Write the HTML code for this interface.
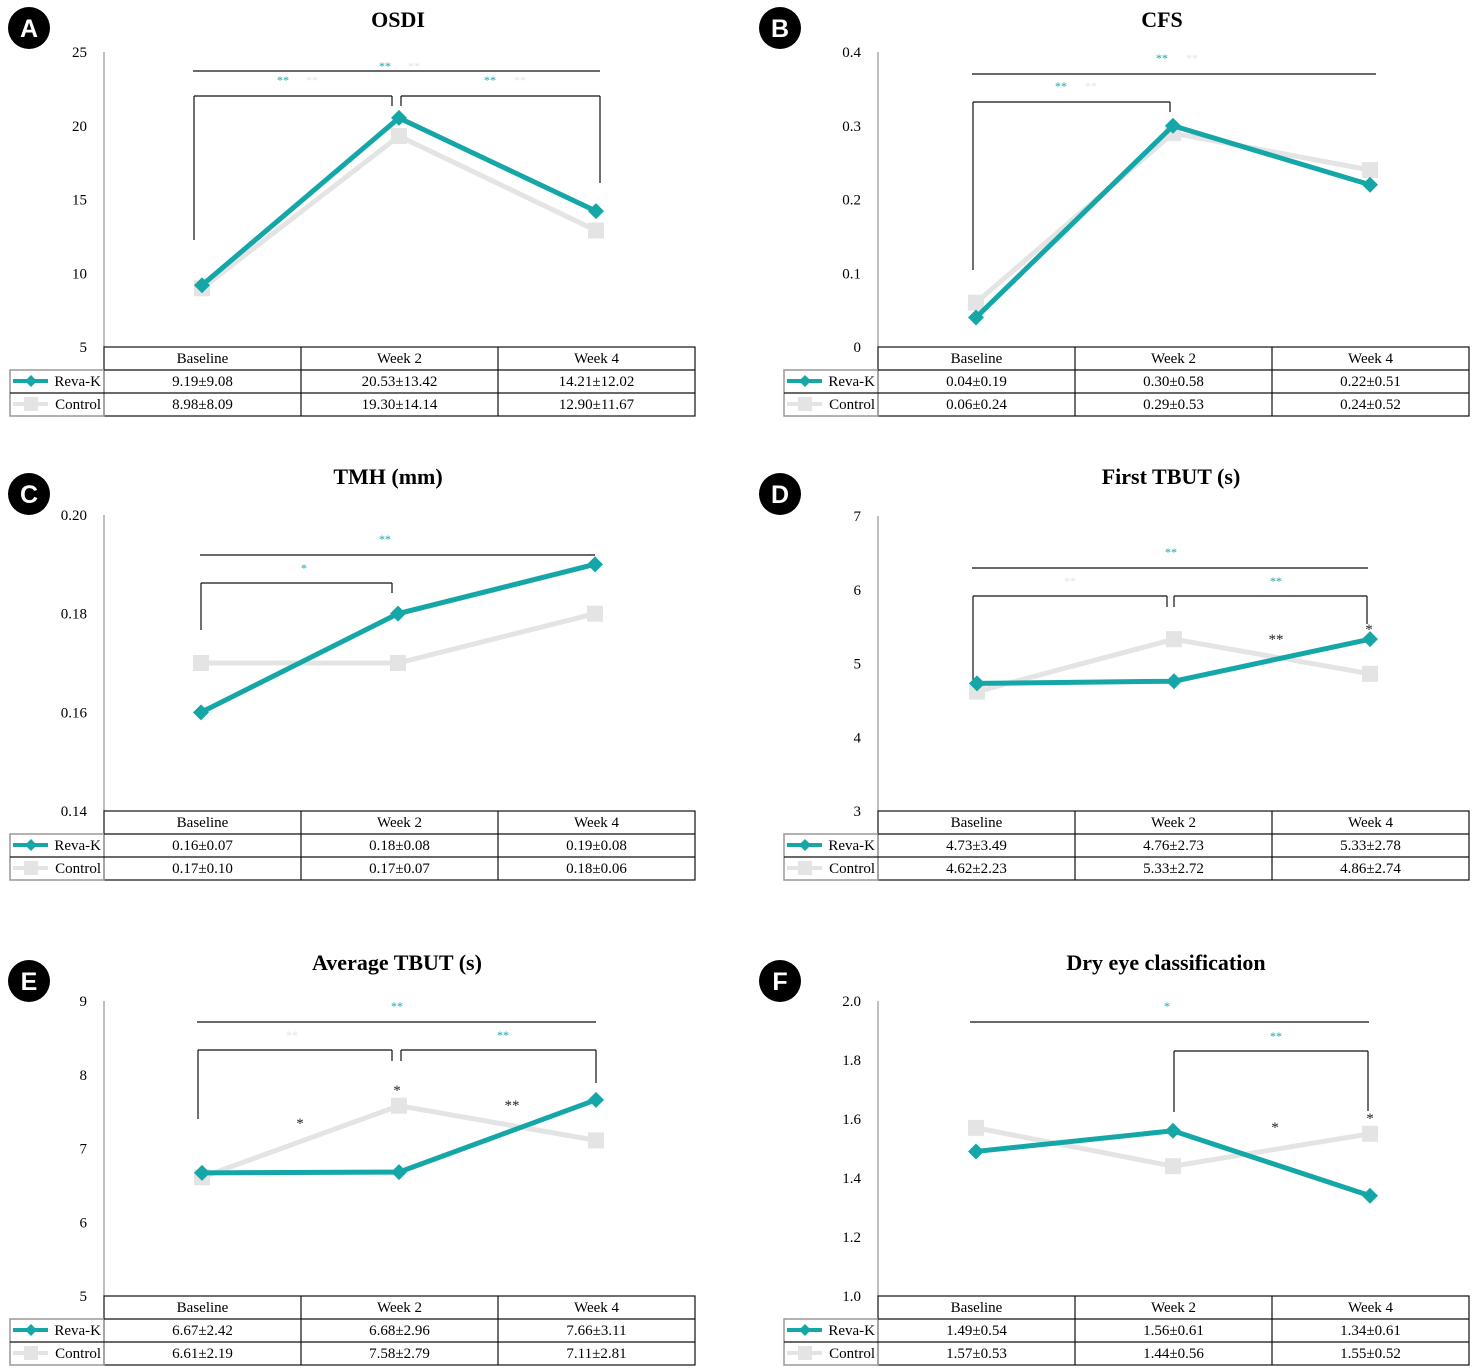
<!DOCTYPE html><html><head><meta charset="utf-8"><style>body{margin:0;background:#fff}svg{display:block}</style></head><body>
<svg id="s" width="1477" height="1372" xmlns="http://www.w3.org/2000/svg" font-family="Liberation Serif, serif"></svg>
<script>
const T='#15a6a8',G='#e4e4e4';
const P=[
{ax:104,top:52,bot:347,cx:[202,399,596],cols:[104,301,498,695],lo:5,hi:25,ticks:['25','20','15','10','5'],t:'OSDI',tx:398,ty:27,b:[29,28],
 r:[9.19,20.53,14.21],g:[8.98,19.30,12.90],rv:['9.19±9.08','20.53±13.42','14.21±12.02'],gv:['8.98±8.09','19.30±14.14','12.90±11.67'],
 ln:[[193,71,600,71],[194,96,392,96],[194,96,194,240],[392,96,392,106],[401,96,600,96],[401,96,401,106],[600,96,600,183]],
 st:[[385,70,T,'**'],[414,70,G,'**'],[283,84,T,'**'],[312,84,G,'**'],[490,84,T,'**'],[520,84,G,'**']]},
{ax:878,top:52,bot:347,cx:[976,1173,1370],cols:[878,1075,1272,1469],lo:0,hi:0.4,ticks:['0.4','0.3','0.2','0.1','0'],t:'CFS',tx:1162,ty:27,b:[780,28],
 r:[.04,.30,.22],g:[.06,.29,.24],rv:['0.04±0.19','0.30±0.58','0.22±0.51'],gv:['0.06±0.24','0.29±0.53','0.24±0.52'],
 ln:[[972,74,1376,74],[973,102,1170,102],[973,102,973,270],[1170,102,1170,112]],
 st:[[1162,62,T,'**'],[1192,62,G,'**'],[1061,90,T,'**'],[1091,90,G,'**']]},
{ax:104,top:515,bot:811,cx:[201,398,595],cols:[104,301,498,695],lo:.14,hi:.20,ticks:['0.20','0.18','0.16','0.14'],t:'TMH (mm)',tx:388,ty:484,b:[29,494],
 r:[.16,.18,.19],g:[.17,.17,.18],rv:['0.16±0.07','0.18±0.08','0.19±0.08'],gv:['0.17±0.10','0.17±0.07','0.18±0.06'],
 ln:[[200,555,595,555],[201,583,392,583],[201,583,201,630],[392,583,392,593]],
 st:[[385,543,T,'**'],[304,572,T,'*']]},
{ax:878,top:516,bot:811,cx:[977,1174,1370],cols:[878,1075,1272,1469],lo:3,hi:7,ticks:['7','6','5','4','3'],t:'First TBUT (s)',tx:1171,ty:484,b:[780,494],
 r:[4.73,4.76,5.33],g:[4.62,5.33,4.86],rv:['4.73±3.49','4.76±2.73','5.33±2.78'],gv:['4.62±2.23','5.33±2.72','4.86±2.74'],
 ln:[[972,568,1368,568],[973,596,1167,596],[973,596,973,686],[1167,596,1167,607],[1174,596,1367,596],[1174,596,1174,607],[1367,596,1367,624]],
 st:[[1171,556,T,'**'],[1070,585,G,'**'],[1276,585,T,'**'],[1276,644,'#222','**'],[1369,634,'#222','*']]},
{ax:104,top:1001,bot:1296,cx:[202,399,596],cols:[104,301,498,695],lo:5,hi:9,ticks:['9','8','7','6','5'],t:'Average TBUT (s)',tx:397,ty:970,b:[29,981],
 r:[6.67,6.68,7.66],g:[6.61,7.58,7.11],rv:['6.67±2.42','6.68±2.96','7.66±3.11'],gv:['6.61±2.19','7.58±2.79','7.11±2.81'],
 ln:[[197,1022,596,1022],[198,1050,392,1050],[198,1050,198,1119],[392,1050,392,1061],[401,1050,596,1050],[401,1050,401,1061],[596,1050,596,1083]],
 st:[[397,1010,T,'**'],[292,1039,G,'**'],[503,1039,T,'**'],[300,1128,'#222','*'],[397,1095,'#222','*'],[512,1110,'#222','**']]},
{ax:878,top:1001,bot:1296,cx:[976,1173,1370],cols:[878,1075,1272,1469],lo:1,hi:2,ticks:['2.0','1.8','1.6','1.4','1.2','1.0'],t:'Dry eye classification',tx:1166,ty:970,b:[780,981],
 r:[1.49,1.56,1.34],g:[1.57,1.44,1.55],rv:['1.49±0.54','1.56±0.61','1.34±0.61'],gv:['1.57±0.53','1.44±0.56','1.55±0.52'],
 ln:[[970,1022,1369,1022],[1174,1051,1368,1051],[1174,1051,1174,1112],[1368,1051,1368,1111]],
 st:[[1167,1010,T,'*'],[1276,1040,T,'**'],[1275,1132,'#222','*'],[1370,1123,'#222','*']]}];
let h='';
const L=(x1,y1,x2,y2,c,w)=>`<line x1="${x1}" y1="${y1}" x2="${x2}" y2="${y2}" stroke="${c}" stroke-width="${w}"/>`;
function tx(x,y,s,a,str,extra){return `<text x="${x}" y="${y}" font-size="${s}" text-anchor="${a}" ${extra||''}>${str}</text>`}
function dia(x,y,s){return `<polygon points="${x},${y-s} ${x+s},${y} ${x},${y+s} ${x-s},${y}" fill="${T}"/>`}
P.forEach(p=>{
 const Y=v=>p.bot-(v-p.lo)/(p.hi-p.lo)*(p.bot-p.top);
 h+=`<circle cx="${p.b[0]}" cy="${p.b[1]}" r="21" fill="#000"/>`;
 h+=tx(p.b[0],p.b[1]+9,25,'middle','ABCDEF'[P.indexOf(p)],'fill="#fff" font-family="Liberation Sans,sans-serif" font-weight="bold"');
 h+=tx(p.tx,p.ty,22,'middle',p.t,'font-weight="bold"');
 h+=L(p.ax,p.top,p.ax,p.bot,'#aaa',1.5);
 const n=p.ticks.length;
 p.ticks.forEach((t,i)=>{const y=p.top+(p.bot-p.top)*i/(n-1);h+=tx(p.ax-17,y+5,15,'end',t)});
 p.ln.forEach(l=>h+=L(l[0],l[1],l[2],l[3],'#111',1.2));
 p.st.forEach(s=>h+=tx(s[0],s[1],s[2]=='#222'?15:12,'middle',s[3],`fill="${s[2]}"`));
 const gp=p.cx.map((x,i)=>x+','+Y(p.g[i])).join(' '), rp=p.cx.map((x,i)=>x+','+Y(p.r[i])).join(' ');
 h+=`<polyline points="${gp}" fill="none" stroke="${G}" stroke-width="5"/>`;
 p.cx.forEach((x,i)=>h+=`<rect x="${x-8}" y="${Y(p.g[i])-8}" width="16" height="16" fill="${G}"/>`);
 h+=`<polyline points="${rp}" fill="none" stroke="${T}" stroke-width="5"/>`;
 p.cx.forEach((x,i)=>h+=dia(x,Y(p.r[i]),8));
 const c=p.cols,y0=p.bot,rh=23,lx=p.ax-94;
 h+=`<rect x="${c[0]}" y="${y0}" width="${c[3]-c[0]}" height="${rh*3}" fill="none" stroke="#111" stroke-width="1.2"/>`;
 h+=`<rect x="${lx}" y="${y0+rh}" width="${c[0]-lx}" height="${rh*2}" fill="none" stroke="#999" stroke-width="1.5"/>`;
 h+=L(lx,y0+2*rh,c[3],y0+2*rh,'#111',1.2)+L(c[0],y0+rh,c[3],y0+rh,'#111',1.2);
 h+=L(c[1],y0,c[1],y0+3*rh,'#111',1.2)+L(c[2],y0,c[2],y0+3*rh,'#111',1.2);
 ['Baseline','Week 2','Week 4'].forEach((t,i)=>{const m=(c[i]+c[i+1])/2;
  h+=tx(m,y0+16,15,'middle',t)+tx(m,y0+rh+16,15,'middle',p.rv[i])+tx(m,y0+2*rh+16,15,'middle',p.gv[i]);});
 h+=L(lx+3,y0+rh+11,lx+38,y0+rh+11,T,4)+dia(lx+21,y0+rh+11,6);
 h+=L(lx+3,y0+2*rh+11,lx+38,y0+2*rh+11,G,4)+`<rect x="${lx+14}" y="${y0+2*rh+4}" width="14" height="14" fill="${G}"/>`;
 h+=tx(c[0]-3,y0+rh+16,15,'end','Reva-K')+tx(c[0]-3,y0+2*rh+16,15,'end','Control');
});
document.getElementById('s').innerHTML=h;
</script></body></html>
